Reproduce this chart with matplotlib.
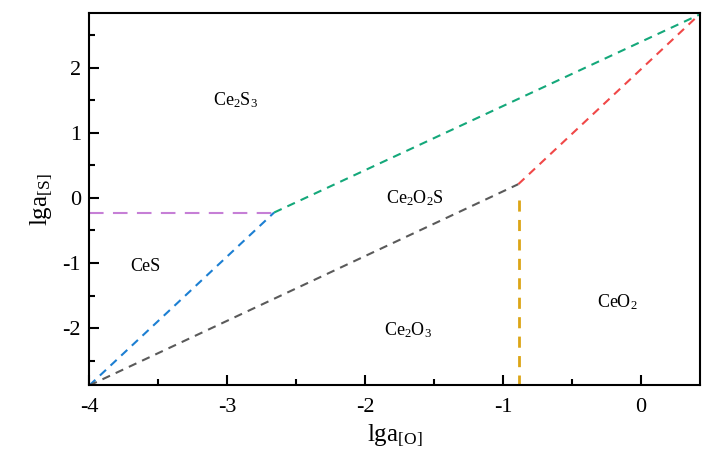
import numpy as np
import matplotlib
matplotlib.use("Agg")
import matplotlib.pyplot as plt
from matplotlib.ticker import MultipleLocator

plt.rcParams['font.family'] = ['Liberation Serif', 'DejaVu Serif']
plt.rcParams['mathtext.fontset'] = 'custom'
plt.rcParams['mathtext.rm'] = 'Liberation Serif'
plt.rcParams['mathtext.it'] = 'Liberation Serif'
plt.rcParams['axes.unicode_minus'] = False

# boundary lines (lga[O], lga[S])
ces_ce2s3_x = [-4.0, -2.66]
ces_ce2s3_y = [-0.225, -0.225]
ces_ce2o3_x = [-4.0, -2.66]
ces_ce2o3_y = [-2.88, -0.225]
ce2s3_ce2o2s_x = [-2.66, 0.42]
ce2s3_ce2o2s_y = [-0.225, 2.81]
ce2o3_ce2o2s_x = [-4.0, -0.89]
ce2o3_ce2o2s_y = [-2.88, 0.21]
ce2o2s_ceo2_x = [-0.89, 0.42]
ce2o2s_ceo2_y = [0.21, 2.81]
ce2o3_ceo2_x = [-0.885, -0.885]
ce2o3_ceo2_y = [-0.03, -2.88]

phase_names = [r'Ce$_2$S$_3$', 'CeS', r'Ce$_2$O$_2$S', r'Ce$_2$O$_3$', r'CeO$_2$']
phase_x = [-2.94, -3.59, -1.64, -1.69, -0.17]
phase_y = [1.5, -1.06, 0.0, -2.03, -1.6]

fig = plt.figure(figsize=(7.14, 4.65), dpi=100)
ax = fig.add_axes([0.125, 0.171, 0.856, 0.8])

ax.plot(ces_ce2s3_x, ces_ce2s3_y, color='#c67fd6', lw=1.5, dashes=(7, 4.5))
ax.plot(ces_ce2o3_x, ces_ce2o3_y, color='#1c7fd2', lw=1.5, dashes=(4, 3))
ax.plot(ce2s3_ce2o2s_x, ce2s3_ce2o2s_y, color='#14a87a', lw=1.5, dashes=(4, 3))
ax.plot(ce2o3_ce2o2s_x, ce2o3_ce2o2s_y, color='#5a5a5a', lw=1.5, dashes=(4, 3))
ax.plot(ce2o2s_ceo2_x, ce2o2s_ceo2_y, color='#f04848', lw=1.5, dashes=(4, 3))
ax.plot(ce2o3_ceo2_x, ce2o3_ceo2_y, color='#dca516', lw=2.0, dashes=(4, 3))

for name, x, y in zip(phase_names, phase_x, phase_y):
    ax.text(x, y, name, fontsize=13, ha='center', va='center')

ax.set_xlim(-4.0, 0.43)
ax.set_ylim(-2.88, 2.83)
ax.xaxis.set_major_locator(MultipleLocator(1))
ax.xaxis.set_minor_locator(MultipleLocator(0.5))
ax.yaxis.set_major_locator(MultipleLocator(1))
ax.yaxis.set_minor_locator(MultipleLocator(0.5))
ax.tick_params(which='both', direction='in', top=False, right=False, width=1.5, labelsize=16)
ax.tick_params(axis='x', which='major', pad=9)
ax.tick_params(axis='y', which='major', pad=6)
ax.tick_params(which='major', length=7)
ax.tick_params(which='minor', length=4)
for s in ax.spines.values():
    s.set_linewidth(1.5)

ax.set_xlabel(r'lga$_{\mathrm{[O]}}$', fontsize=18, labelpad=4)
ax.set_ylabel(r'lga$_{\mathrm{[S]}}$', fontsize=18, labelpad=6)

fig.savefig('out.png', dpi=100)
